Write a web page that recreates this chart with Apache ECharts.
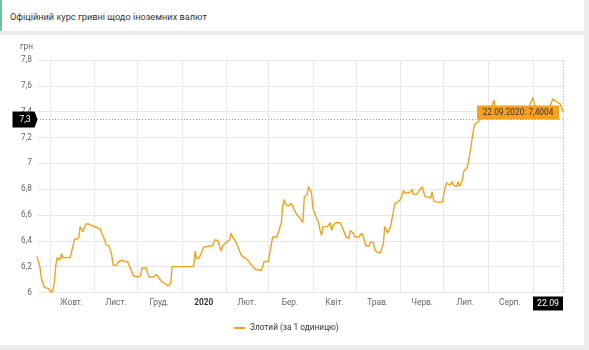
<!DOCTYPE html>
<html>
<head>
<meta charset="utf-8">
<script src="https://cdn.jsdelivr.net/npm/echarts@6/dist/echarts.min.js"></script>
<style>
  html, body { margin: 0; padding: 0; background: #ececec; font-family: Roboto, "Noto Sans", sans-serif; }
  #head { position: absolute; left: 0; top: 0; width: 584px; height: 31px; background: #fff;
          border-left: 2px solid #6cc3a0; box-sizing: border-box; }
  #head span { position: absolute; left: 8px; top: 11px; font-size: 9.2px; color: #333; }
  #card { position: absolute; left: 0; top: 35px; width: 584px; height: 310px; background: #fff; }
  #chart { position: absolute; left: 0; top: 0; width: 589px; height: 350px; }
</style>
</head>
<body>
<div id="head"><span>Офіційний курс гривні щодо іноземних валют</span></div>
<div id="card"></div>
<div id="chart"></div>
<script>
// Official UAH rate for 1 Polish zloty, Sep 2019 – Sep 2020
const seriesName = 'Злотий (за 1 одиницю)';
const dates = [
  '2019-09-22','2019-09-23','2019-09-24','2019-09-25','2019-09-27','2019-09-30','2019-10-01','2019-10-02',
  '2019-10-03','2019-10-04','2019-10-05','2019-10-06','2019-10-07','2019-10-08','2019-10-09','2019-10-10',
  '2019-10-12','2019-10-15','2019-10-16','2019-10-18','2019-10-21','2019-10-22','2019-10-23','2019-10-24',
  '2019-10-25','2019-10-26','2019-10-28','2019-10-30','2019-11-01','2019-11-03','2019-11-05','2019-11-06',
  '2019-11-08','2019-11-09','2019-11-11','2019-11-12','2019-11-13','2019-11-14','2019-11-16','2019-11-18',
  '2019-11-19','2019-11-20','2019-11-22','2019-11-24','2019-11-25','2019-11-27','2019-11-28','2019-12-01',
  '2019-12-02','2019-12-03','2019-12-04','2019-12-05','2019-12-07','2019-12-08','2019-12-09','2019-12-10',
  '2019-12-12','2019-12-13','2019-12-14','2019-12-15','2019-12-16','2019-12-17','2019-12-18','2019-12-20',
  '2019-12-22','2019-12-23','2019-12-24','2019-12-25','2019-12-27','2020-01-04','2020-01-09','2020-01-10',
  '2020-01-11','2020-01-13','2020-01-16','2020-01-20','2020-01-22','2020-01-24','2020-01-26','2020-01-28',
  '2020-01-29','2020-02-01','2020-02-03','2020-02-04','2020-02-05','2020-02-07','2020-02-09','2020-02-11',
  '2020-02-13','2020-02-15','2020-02-17','2020-02-19','2020-02-21','2020-02-22','2020-02-25','2020-02-26',
  '2020-02-27','2020-03-01','2020-03-02','2020-03-03','2020-03-04','2020-03-07','2020-03-08','2020-03-10',
  '2020-03-11','2020-03-12','2020-03-13','2020-03-15','2020-03-16','2020-03-17','2020-03-19','2020-03-21',
  '2020-03-22','2020-03-24','2020-03-25','2020-03-26','2020-03-28','2020-03-29','2020-03-30','2020-03-31',
  '2020-04-01','2020-04-03','2020-04-05','2020-04-06','2020-04-07','2020-04-08','2020-04-11','2020-04-12',
  '2020-04-13','2020-04-14','2020-04-15','2020-04-17','2020-04-20','2020-04-22','2020-04-24','2020-04-26',
  '2020-04-27','2020-04-29','2020-04-30','2020-05-03','2020-05-05','2020-05-06','2020-05-08','2020-05-10',
  '2020-05-11','2020-05-13','2020-05-14','2020-05-16','2020-05-18','2020-05-20','2020-05-21','2020-05-22',
  '2020-05-23','2020-05-25','2020-05-27','2020-05-28','2020-05-30','2020-06-01','2020-06-03','2020-06-04',
  '2020-06-06','2020-06-08','2020-06-09','2020-06-10','2020-06-12','2020-06-14','2020-06-16','2020-06-17',
  '2020-06-18','2020-06-20','2020-06-22','2020-06-23','2020-06-24','2020-06-26','2020-06-28','2020-06-30',
  '2020-07-02','2020-07-03','2020-07-04','2020-07-05','2020-07-07','2020-07-08','2020-07-10','2020-07-11',
  '2020-07-12','2020-07-14','2020-07-15','2020-07-17','2020-07-18','2020-07-20','2020-07-21','2020-07-22',
  '2020-07-23','2020-07-25','2020-07-26','2020-07-28','2020-07-30','2020-08-01','2020-08-03','2020-08-05',
  '2020-08-06','2020-08-08','2020-08-11','2020-08-13','2020-08-15','2020-08-18','2020-08-20','2020-08-24',
  '2020-08-26','2020-08-28','2020-09-01','2020-09-03','2020-09-05','2020-09-08','2020-09-10','2020-09-12',
  '2020-09-15','2020-09-17','2020-09-20','2020-09-22'
];
const rates = [
  6.28,6.28,6.20,6.11,6.04,6.03,6.02,6.00,
  6.02,6.07,6.20,6.27,6.27,6.25,6.30,6.27,
  6.27,6.27,6.31,6.41,6.42,6.51,6.52,6.47,
  6.47,6.53,6.53,6.52,6.51,6.50,6.49,6.46,
  6.41,6.37,6.36,6.33,6.29,6.21,6.21,6.24,
  6.23,6.25,6.24,6.24,6.21,6.16,6.13,6.12,
  6.11,6.13,6.19,6.19,6.19,6.15,6.12,6.11,
  6.12,6.13,6.14,6.14,6.11,6.11,6.08,6.07,
  6.05,6.05,6.07,6.20,6.20,6.20,6.20,6.32,
  6.26,6.27,6.35,6.36,6.36,6.41,6.40,6.32,
  6.36,6.39,6.41,6.46,6.43,6.40,6.35,6.29,
  6.27,6.26,6.23,6.20,6.18,6.17,6.17,6.20,
  6.24,6.24,6.24,6.37,6.43,6.43,6.43,6.54,
  6.67,6.72,6.68,6.67,6.67,6.69,6.64,6.60,
  6.59,6.56,6.54,6.74,6.76,6.82,6.82,6.77,
  6.65,6.59,6.54,6.48,6.44,6.51,6.51,6.51,
  6.54,6.48,6.52,6.54,6.54,6.49,6.43,6.42,
  6.48,6.46,6.43,6.43,6.46,6.43,6.36,6.36,
  6.39,6.39,6.33,6.31,6.31,6.38,6.51,6.51,
  6.46,6.51,6.63,6.69,6.70,6.72,6.79,6.77,
  6.77,6.78,6.80,6.76,6.76,6.79,6.82,6.78,
  6.74,6.74,6.73,6.78,6.71,6.70,6.70,6.70,
  6.81,6.85,6.84,6.83,6.86,6.83,6.82,6.86,
  6.82,6.87,6.94,6.96,7.00,7.13,7.21,7.28,
  7.31,7.32,7.34,7.36,7.40,7.41,7.42,7.49,
  7.42,7.40,7.41,7.40,7.38,7.39,7.36,7.34,
  7.38,7.40,7.51,7.42,7.40,7.38,7.40,7.41,
  7.50,7.48,7.46,7.4004
];
// month boundaries (grid lines) and mid-month label positions
const monthStarts = ['2019-10-01','2019-11-01','2019-12-01','2020-01-01','2020-02-01','2020-03-01',
                     '2020-04-01','2020-05-01','2020-06-01','2020-07-01','2020-08-01','2020-09-01'];
const monthLabelDates = ['2019-10-16','2019-11-16','2019-12-16','2020-01-16','2020-02-15','2020-03-16',
                         '2020-04-16','2020-05-16','2020-06-16','2020-07-16','2020-08-16'];
const monthNames = ['Січ.','Лют.','Бер.','Квіт.','Трав.','Черв.','Лип.','Серп.','Вер.','Жовт.','Лист.','Груд.'];
const yTicks = { min: 6, max: 7.8, step: 0.2 };
const crosshairY = 7.34;

const toTs = s => { const [y, m, d] = s.split('-').map(Number); return +new Date(y, m - 1, d); };
const comma = v => String(v).replace('.', ',');
const pad = n => (n < 10 ? '0' : '') + n;

const firstDate = dates[0];
const lastDate = dates[dates.length - 1];
const lastValue = rates[rates.length - 1];
const lastD = new Date(toTs(lastDate));
const shortDate = pad(lastD.getDate()) + '.' + pad(lastD.getMonth() + 1);
const fullDate = shortDate + '.' + lastD.getFullYear();

const fs = 8.3;
const lineColor = '#f7a11b';
const chart = echarts.init(document.getElementById('chart'), null, { renderer: 'canvas' });

chart.setOption({
  animation: false,
  backgroundColor: 'transparent',
  textStyle: { fontFamily: 'Roboto, "Noto Sans", sans-serif' },
  grid: { left: 37, right: 26, top: 60, bottom: 57.5 },
  legend: {
    data: [seriesName],
    left: 229, top: 319,
    icon: 'rect', itemWidth: 11, itemHeight: 2, itemGap: 4,
    textStyle: { fontSize: fs, color: '#333' }
  },
  xAxis: {
    type: 'value',
    min: toTs(firstDate), max: toTs(lastDate),
    axisLine: { show: false },
    axisTick: { show: false, customValues: monthStarts.map(toTs) },
    splitLine: { show: true, lineStyle: { color: '#e8e8e8', width: 1 } },
    axisLabel: {
      customValues: monthLabelDates.map(toTs),
      margin: 6, fontSize: fs, color: '#666',
      formatter: v => {
        const d = new Date(v);
        return d.getMonth() === 0 ? '{b|' + d.getFullYear() + '}' : monthNames[d.getMonth()];
      },
      rich: { b: { fontWeight: 'bold', color: '#333', fontSize: fs } }
    }
  },
  yAxis: {
    type: 'value',
    min: yTicks.min, max: yTicks.max, interval: yTicks.step,
    name: 'грн', nameLocation: 'end', nameGap: 9,
    nameTextStyle: { fontSize: fs, color: '#666', align: 'right', padding: [0, 4, 0, 0] },
    axisLine: { show: false }, axisTick: { show: false },
    splitLine: { lineStyle: { color: '#e8e8e8', width: 1 } },
    axisLabel: { margin: 5, fontSize: fs, color: '#666', formatter: v => comma(Math.round(v * 10) / 10) }
  },
  series: [{
    name: seriesName,
    type: 'line',
    data: dates.map((d, i) => [toTs(d), rates[i]]),
    showSymbol: false,
    lineStyle: { color: lineColor, width: 1.4 },
    itemStyle: { color: lineColor },
    markLine: {
      silent: true, symbol: ['none', 'none'],
      label: { show: false },
      lineStyle: { color: '#9a9a9a', type: [1, 2], width: 1 },
      data: [{ xAxis: toTs(lastDate) }, { yAxis: crosshairY }]
    },
    markPoint: {
      silent: true,
      data: [
        { // value tooltip
          coord: [toTs(lastDate), lastValue],
          symbol: 'rect', symbolSize: [82, 14], symbolOffset: [-45, 1],
          itemStyle: { color: '#f7a11b' },
          label: { show: true, position: 'inside', color: '#333', fontSize: fs,
                   formatter: fullDate + ': ' + comma(lastValue) }
        },
        { // date flag on x axis
          coord: [toTs(lastDate), yTicks.min],
          symbol: 'rect', symbolSize: [30, 14], symbolOffset: [-15, 11],
          itemStyle: { color: '#000' },
          label: { show: true, position: 'inside', color: '#fff', fontSize: fs + 0.5, formatter: shortDate }
        },
        { // value flag on y axis
          coord: [toTs(firstDate), crosshairY],
          symbol: 'path://M0,0 L23,0 L26,8 L23,16 L0,16 Z', symbolKeepAspect: false,
          symbolSize: [25, 16], symbolOffset: [-12, 0],
          itemStyle: { color: '#000' },
          label: { show: true, position: 'inside', color: '#fff', fontSize: fs + 0.5,
                   formatter: comma(crosshairY.toFixed(1)) }
        }
      ]
    }
  }]
});
</script>
</body>
</html>
